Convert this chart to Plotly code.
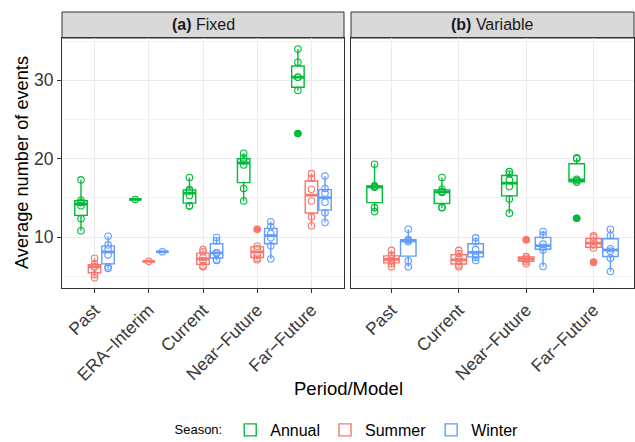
import numpy as np
import plotly.graph_objects as go

# Seasons and their colours (ggplot hue palette)
seasons = ["Annual", "Summer", "Winter"]
season_colors = ["#00BA38", "#F8766D", "#619CFF"]

# Period/model categories for each panel
fixed_periods = ["Past", "ERA\u2212Interim", "Current", "Near\u2212Future", "Far\u2212Future"]
variable_periods = ["Past", "Current", "Near\u2212Future", "Far\u2212Future"]

# Average number of events per model, panel (a) Fixed threshold
fixed_annual = [[10.8, 12.35, 14.0, 14.4, 14.7, 17.3], [14.8],
                [13.95, 14.0, 15.3, 15.9, 16.05, 17.6],
                [14.6, 16.2, 19.2, 19.7, 20.1, 20.7],
                [23.2, 28.7, 30.4, 30.4, 32.3, 34.0]]
fixed_summer = [[4.8, 5.2, 6.2, 6.2, 6.55, 7.3], [6.9],
                [6.2, 6.35, 7.0, 7.4, 8.13, 8.4],
                [7.1, 7.3, 7.7, 8.5, 8.83, 11.0],
                [11.45, 12.55, 14.6, 16.1, 17.5, 18.1]]
fixed_winter = [[6.0, 6.2, 7.7, 8.5, 9.0, 10.1], [8.13],
                [7.0, 7.12, 7.95, 8.0, 9.53, 9.95],
                [7.2, 8.9, 9.9, 10.45, 11.32, 11.95],
                [11.85, 13.1, 14.45, 15.6, 16.2, 17.8]]

# Average number of events per model, panel (b) Variable threshold
variable_annual = [[13.25, 13.75, 16.35, 16.45, 16.55, 19.3],
                   [13.75, 13.8, 15.7, 15.8, 16.1, 17.6],
                   [13.05, 14.85, 16.45, 17.3, 18.05, 18.35],
                   [12.4, 17.0, 17.2, 17.38, 20.0, 20.1]]
variable_summer = [[6.2, 6.6, 7.0, 7.3, 7.7, 8.3],
                   [6.2, 6.45, 6.9, 7.3, 7.9, 8.3],
                   [6.6, 6.85, 7.1, 7.3, 7.5, 9.65],
                   [6.8, 8.6, 9.0, 9.45, 9.95, 10.15]]
variable_winter = [[6.2, 6.95, 9.4, 9.6, 9.68, 11.0],
                   [7.0, 7.4, 7.7, 8.4, 9.4, 9.9],
                   [6.25, 8.35, 8.7, 9.1, 10.25, 10.7],
                   [5.6, 7.3, 8.2, 8.5, 10.2, 11.0]]

panels = [
    ("(a)", "Fixed", fixed_periods, [fixed_annual, fixed_summer, fixed_winter]),
    ("(b)", "Variable", variable_periods, [variable_annual, variable_summer, variable_winter]),
]

FONT = "Liberation Sans, Arial, sans-serif"
DODGE = 0.25
BOX_W = 0.23


def box_stats(vals):
    a = np.asarray(vals, dtype=float)
    q1, med, q3 = np.percentile(a, [25, 50, 75])
    iqr = q3 - q1
    lo, hi = q1 - 1.5 * iqr, q3 + 1.5 * iqr
    inside = a[(a >= lo) & (a <= hi)]
    out = a[(a < lo) | (a > hi)]
    return q1, med, q3, inside.min(), inside.max(), out


fig = go.Figure()

for p_idx, (tag, label, periods, series) in enumerate(panels):
    xref = "x" if p_idx == 0 else "x2"
    yref = "y" if p_idx == 0 else "y2"
    for s_idx, (season, color, data) in enumerate(zip(seasons, season_colors, series)):
        offset = (s_idx - 1) * DODGE
        pos = np.arange(len(periods)) + offset
        stats = [box_stats(v) for v in data]
        fig.add_trace(go.Box(
            x=pos,
            q1=[s[0] for s in stats], median=[s[1] for s in stats],
            q3=[s[2] for s in stats], lowerfence=[s[3] for s in stats],
            upperfence=[s[4] for s in stats],
            width=BOX_W, whiskerwidth=0, boxpoints=False,
            fillcolor="white", line=dict(color=color, width=1.4),
            name=season, legendgroup=season, showlegend=(p_idx == 0),
            hoverinfo="skip", xaxis=xref, yaxis=yref,
        ))
    for s_idx, (season, color, data) in enumerate(zip(seasons, season_colors, series)):
        offset = (s_idx - 1) * DODGE
        pos = np.arange(len(periods)) + offset
        stats = [box_stats(v) for v in data]
        # thicker median bar
        mx, my = [], []
        for p, s in zip(pos, stats):
            mx += [p - BOX_W / 2, p + BOX_W / 2, None]
            my += [s[1], s[1], None]
        fig.add_trace(go.Scatter(x=mx, y=my, mode="lines",
                                 line=dict(color=color, width=2.8),
                                 showlegend=False, hoverinfo="skip",
                                 xaxis=xref, yaxis=yref))
        # individual model values
        px_, py_ = [], []
        for p, v in zip(pos, data):
            px_ += [p] * len(v)
            py_ += list(v)
        fig.add_trace(go.Scatter(x=px_, y=py_, mode="markers",
                                 marker=dict(symbol="circle-open", size=6.5,
                                             color=color, line=dict(width=1.1)),
                                 showlegend=False, hoverinfo="skip",
                                 xaxis=xref, yaxis=yref))
        # outliers
        ox, oy = [], []
        for p, s in zip(pos, stats):
            ox += [p] * len(s[5])
            oy += list(s[5])
        if ox:
            fig.add_trace(go.Scatter(x=ox, y=oy, mode="markers",
                                     marker=dict(symbol="circle", size=7, color=color),
                                     showlegend=False, hoverinfo="skip",
                                     xaxis=xref, yaxis=yref))

W, H = 635, 442
ML, MR, MT, MB = 62, 1, 12, 154
pw = W - ML - MR
ph = H - MT - MB
panel_top = (H - MB - 38) / ph
dom1 = [0, 282 / pw]
dom2 = [289 / pw, 1]

axis_common = dict(
    showline=True, mirror=True, linecolor="#333333", linewidth=1,
    showgrid=True, gridcolor="#EBEBEB", gridwidth=1.1, zeroline=False,
    ticks="outside", ticklen=4, tickcolor="#333333", tickwidth=1,
    tickfont=dict(family=FONT, size=17.5, color="#383838"),
    automargin=False,
)
minor_grid = dict(dtick=5, tick0=0, showgrid=True, gridcolor="#F2F2F2",
                  gridwidth=0.8, ticks="")

fig.update_layout(
    width=W, height=H,
    margin=dict(l=ML, r=MR, t=MT, b=MB, autoexpand=False),
    plot_bgcolor="white", paper_bgcolor="white",
    boxmode="overlay",
    font=dict(family=FONT, color="black"),
    xaxis=dict(domain=dom1, range=[-0.6, len(fixed_periods) - 0.4],
               tickvals=list(range(len(fixed_periods))), ticktext=fixed_periods,
               tickangle=-45, anchor="y", **axis_common),
    xaxis2=dict(domain=dom2, range=[-0.6, len(variable_periods) - 0.4],
                tickvals=list(range(len(variable_periods))), ticktext=variable_periods,
                tickangle=-45, anchor="y2", **axis_common),
    yaxis=dict(domain=[0, panel_top], range=[3.5, 35.4], tickvals=[10, 20, 30],
               minor=minor_grid, anchor="x", **axis_common),
    yaxis2=dict(domain=[0, panel_top], range=[3.5, 35.4], tickvals=[10, 20, 30],
                minor=minor_grid, anchor="x2", matches="y",
                **{**axis_common, "ticks": "", "showticklabels": False}),
    legend=dict(orientation="h", x=0.5, xanchor="center",
                yref="container", y=(H - 430) / H, yanchor="middle",
                font=dict(family=FONT, size=16, color="black"),
                title=dict(text='<span style="font-size:13px">Season:</span>', side="left",
                           font=dict(family=FONT, size=16, color="black")),
                itemwidth=30, tracegroupgap=0),
)

# facet strips
for dom, (tag, label, _, _) in zip([dom1, dom2], panels):
    fig.add_shape(type="rect", xref="paper", yref="paper",
                  x0=dom[0], x1=dom[1], y0=panel_top, y1=1,
                  fillcolor="#D9D9D9", line=dict(color="#333333", width=1), layer="below")
    fig.add_annotation(xref="paper", yref="paper", x=(dom[0] + dom[1]) / 2,
                       y=(panel_top + 1) / 2, text=f"<b>{tag}</b> {label}",
                       showarrow=False, font=dict(family=FONT, size=16, color="#1A1A1A"),
                       xanchor="center", yanchor="middle")

# axis titles
fig.add_annotation(xref="paper", yref="paper", x=(22 - ML) / pw, y=panel_top / 2,
                   text="Average number of events", textangle=-90, showarrow=False,
                   font=dict(family=FONT, size=18.2, color="black"),
                   xanchor="center", yanchor="middle")
fig.add_annotation(xref="paper", yref="paper", x=(348 - ML) / pw, y=(H - MB - 388) / ph,
                   text="Period/Model", showarrow=False,
                   font=dict(family=FONT, size=18.5, color="black"),
                   xanchor="center", yanchor="middle")

fig.write_html("out.html")
